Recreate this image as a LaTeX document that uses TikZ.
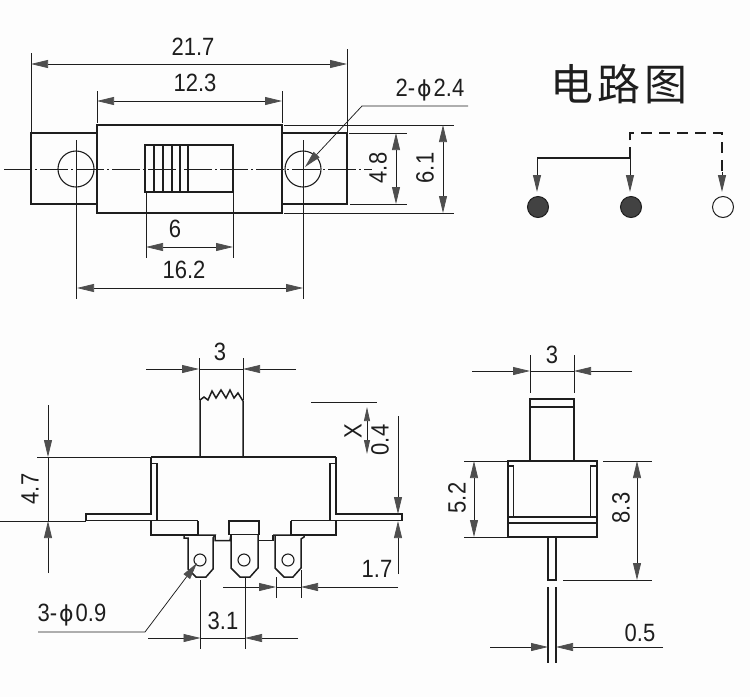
\documentclass[tikz,border=0pt]{standalone}
\usepackage{fontspec}
\setmainfont[FakeStretch=0.88]{Liberation Sans}
\newfontfamily\cjkf{Noto Sans CJK SC}
\newfontfamily\phif{DejaVu Sans}
\usetikzlibrary{arrows.meta}
\definecolor{ink}{HTML}{1E1E1E}
\definecolor{head}{HTML}{4E4E4E}
\definecolor{paper}{HTML}{FDFDFD}
\newcommand{\phisym}{\hspace{2pt}{\phif\fontsize{22}{24}\selectfont ϕ}\hspace{2pt}}
\tikzset{
  outline/.style={draw=ink,line width=1.5pt,line join=miter},
  thin/.style={draw=ink,line width=0.75pt},
  dimone/.style={thin,-{Triangle[length=17pt,width=8pt,fill=head,color=head]}},
  dimtwo/.style={thin,{Triangle[length=17pt,width=8pt,fill=head,color=head]}-{Triangle[length=17pt,width=8pt,fill=head,color=head]}},
  dimsmall/.style={thin,{Triangle[length=14pt,width=6pt,fill=head,color=head]}-{Triangle[length=14pt,width=6pt,fill=head,color=head]}},
  centre/.style={draw=ink,line width=0.6pt,dash pattern=on 28pt off 3pt on 2pt off 3pt},
  lab/.style={inner sep=0pt,text=ink,font=\fontsize{25}{27}\selectfont},
  termfill/.style={circle,draw=ink,fill=head!85!black,line width=1pt,minimum size=21pt,inner sep=0pt},
  termopen/.style={circle,draw=ink,fill=none,line width=1pt,minimum size=21pt,inner sep=0pt},
  bighole/.style={circle,draw=ink,line width=1.1pt,minimum size=36pt,inner sep=0pt},
  pinhole/.style={circle,draw=ink,line width=1.1pt,minimum size=12pt,inner sep=0pt},
}
\begin{document}
\begin{tikzpicture}[x=1pt,y=-1pt]
\useasboundingbox[fill=paper] (0,0) rectangle (750,697);

% ---------- top view ----------
\draw[centre] (4,169) -- (372,169);
\draw[outline] (97,133) -- (31,133) -- (31,204) -- (97,204);
\draw[outline] (282,133) -- (347,133) -- (347,204) -- (282,204);
\draw[outline] (97,125) rectangle (282,213);
\draw[outline] (145,145) rectangle (233,192);
\foreach \sx in {154,163,172,180,188} \draw[thin,line width=1.1pt] (\sx,145) -- (\sx,192);
\node[bighole] (holeL) at (76,169) {};
\node[bighole] (holeR) at (303,169) {};

\draw[thin] (31,53) -- (31,133);
\draw[thin] (347,49) -- (347,133);
\draw[dimtwo] (31,64) -- (347,64);
\node[lab] (t217) at (193,47) {21.7};
\draw[thin] (97,91) -- (97,123);
\draw[thin] (282,91) -- (282,123);
\draw[dimtwo] (97,101) -- (282,101);
\node[lab] (t123) at (195,83) {12.3};
\draw[thin] (146,192) -- (146,258);
\draw[thin] (233,192) -- (233,258);
\draw[dimtwo] (146,247) -- (233,247);
\node[lab] (t6) at (175,229) {6};
\draw[thin] (76,140) -- (76,299);
\draw[thin] (303,140) -- (303,299);
\draw[dimtwo] (77,288) -- (303,288);
\node[lab] (t162) at (184,270) {16.2};
\draw[thin] (349,133) -- (407,133);
\draw[thin] (350,204) -- (407,204);
\draw[dimtwo] (396,133) -- (396,204);
\node[lab,rotate=90] (t48) at (378,168) {4.8};
\draw[thin] (284,125) -- (454,125);
\draw[thin] (284,213) -- (454,213);
\draw[dimtwo] (443,125) -- (443,213);
\node[lab,rotate=90] (t61) at (425,168) {6.1};
\coordinate (ldA) at (468,106);
\coordinate (ldB) at (362,106);
\coordinate (ldC) at (305,167);
\draw[dimone] (ldA) -- (ldB) -- (ldC);
\node[lab] (t24) at (430,90) {2-\phisym 2.4};

% ---------- circuit ----------
\node[inner sep=0pt,text=ink] (title) at (619,84) {\cjkf\fontsize{43}{46}\selectfont 电\hspace{4pt}路\hspace{4pt}图};
\node[termfill] (tA) at (538,207) {};
\node[termfill] (tB) at (631,207) {};
\node[termopen] (tC) at (723,207) {};
\coordinate (jL) at (537,158);
\coordinate (jM) at (630,158);
\coordinate (jT) at (630,133);
\coordinate (jR) at (722,133);
\draw[outline,line width=1.2pt] (jL) -- (jM);
\draw[dimone,line width=1pt] (jL) -- (537,192);
\draw[dimone,line width=1pt] (jM) -- (630,192);
\draw[draw=ink,line width=1.2pt,dash pattern=on 11pt off 7pt] (jM) -- (jT) -- (jR) -- (722,175);
\draw[dimone,line width=1pt] (722,172) -- (722,192);

% ---------- side view ----------
\draw[outline] (200,457) -- (200,400) -- (204,397) -- (208,400) -- (212,391) -- (216,398) -- (221,390) -- (226,398) -- (230,390) -- (234,398) -- (238,393) -- (243,401) -- (243,457);
\draw[outline] (151,457) -- (336,457);
\draw[outline] (151,457) -- (151,514) -- (86,514) -- (86,520.7) -- (198,520.7);
\draw[outline] (157,520.7) -- (157,463.5) -- (151,463.5);
\draw[outline] (336,457) -- (336,514) -- (402,514) -- (402,520.7) -- (291,520.7);
\draw[outline] (330,520.7) -- (330,463.5) -- (336,463.5);
\draw[outline] (151,521) -- (151,535) -- (198,535) -- (198,521);
\draw[outline] (291,521) -- (291,535) -- (336,535) -- (336,521);
\draw[outline] (229,521) rectangle (259,534.5);
\draw[outline] (184,535) -- (184,538) -- (188,538) -- (188,569) -- (196,577) -- (206,577) -- (213,569) -- (213,538) -- (215,535) -- (184,535);
\draw[outline] (215,535) -- (215,540.5) -- (230,540.5) -- (231,535) -- (231,568) -- (240,577) -- (250,577) -- (258,568) -- (258,535);
\draw[outline] (258,540.5) -- (273,540.5) -- (273,535);
\draw[outline] (275,535) -- (275,568) -- (284,577) -- (293,577) -- (301,568) -- (301,539) -- (304,537) -- (304,535) -- (273,535);
\node[pinhole] (pinA) at (200,560) {};
\node[pinhole] (pinB) at (244,560) {};
\node[pinhole] (pinC) at (288,560) {};

\draw[thin] (199,358) -- (199,400);
\draw[thin] (243,358) -- (243,400);
\draw[thin] (199,369) -- (243,369);
\draw[dimone] (146,369) -- (199,369);
\draw[dimone] (296,369) -- (243,369);
\node[lab] (t3a) at (220,352) {3};

\draw[thin] (37,457) -- (151,457);
\draw[thin] (0,521) -- (86,521);
\draw[thin] (48,457) -- (48,521);
\draw[dimone] (48,405) -- (48,457);
\draw[dimone] (48,573) -- (48,521);
\node[lab,rotate=90] (t47) at (30,489) {4.7};

\draw[thin] (311,402) -- (377,402);
\draw[dimsmall] (367,407) -- (367,454);
\node[lab,rotate=90] (tX) at (353,431) {X};
\node[lab,rotate=90] (t04) at (380,440) {0.4};
\draw[dimone] (398,416) -- (398,514);
\draw[dimone] (398,574) -- (398,521);

\draw[thin] (276,577) -- (276,598);
\draw[thin] (301,570) -- (301,598);
\draw[thin] (276,587) -- (301,587);
\draw[dimone] (223,587) -- (276,587);
\draw[dimone] (398,587) -- (301,587);
\node[lab] (t17) at (377,569) {1.7};

\draw[thin] (200.5,580) -- (200.5,649);
\draw[thin] (245,578) -- (245,649);
\draw[thin] (200.5,638) -- (245,638);
\draw[dimone] (148,638) -- (200.5,638);
\draw[dimone] (298,638) -- (245,638);
\node[lab] (t31) at (223,621) {3.1};

\coordinate (lfA) at (38,632);
\coordinate (lfB) at (145,632);
\coordinate (lfC) at (197,563);
\draw[dimone] (lfA) -- (lfB) -- (lfC);
\node[lab] (t09) at (72,615) {3-\phisym 0.9};

% ---------- end view ----------
\draw[outline] (530,460) -- (530,399) -- (574,399) -- (574,460);
\draw[outline] (530,407) -- (574,407);
\draw[outline] (508,461) rectangle (597,537);
\draw[outline] (508,466) -- (513.5,466) -- (513.5,517) -- (590.5,517) -- (590.5,466) -- (597,466);
\draw[outline] (508,523) -- (597,523);
\draw[outline] (508,517) -- (597,517);
\draw[outline] (548,537) -- (548,580) -- (556,580) -- (556,537);
\draw[thin,line width=1.1pt] (548,587) -- (548,663);
\draw[thin,line width=1.1pt] (556,587) -- (556,663);

\draw[thin] (530,355) -- (530,393);
\draw[thin] (574,355) -- (574,393);
\draw[thin] (530,371) -- (574,371);
\draw[dimone] (472,371) -- (530,371);
\draw[dimone] (632,371) -- (574,371);
\node[lab] (t3b) at (552,355) {3};

\draw[thin] (464,461) -- (508,461);
\draw[thin] (464,537) -- (508,537);
\draw[dimtwo] (474,461) -- (474,537);
\node[lab,rotate=90] (t52) at (457,498) {5.2};

\draw[thin] (603,461) -- (652,461);
\draw[thin] (563,580) -- (652,580);
\draw[dimtwo] (637,461) -- (637,580);
\node[lab,rotate=90] (t83) at (621,508) {8.3};

\draw[dimone] (490,647) -- (548,647);
\draw[dimone] (663,647) -- (556,647);
\node[lab] (t05) at (640,633) {0.5};
\end{tikzpicture}
\end{document}
